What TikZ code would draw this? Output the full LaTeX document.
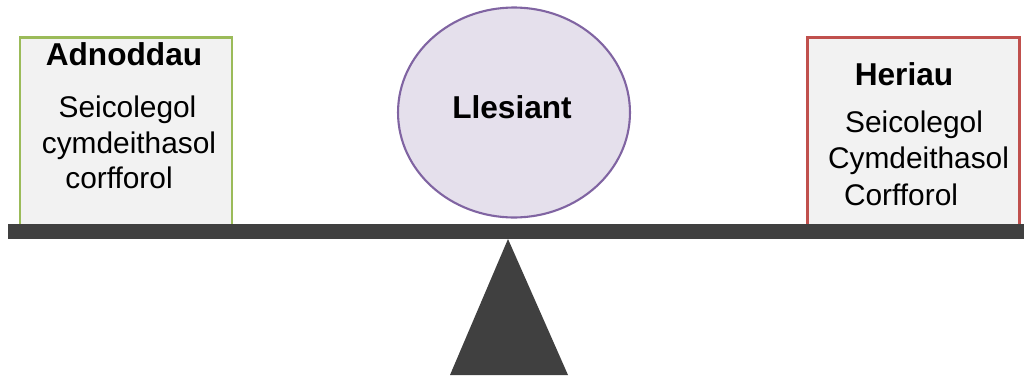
\documentclass[tikz,border=0pt]{standalone}
\usepackage{fontspec}
\setmainfont{Liberation Sans}
\usetikzlibrary{shapes.geometric}
\definecolor{resgreen}{HTML}{9BBB59}
\definecolor{chalred}{HTML}{C0504D}
\definecolor{wellpurple}{HTML}{8064A2}
\definecolor{welllilac}{HTML}{E5E0EC}
\definecolor{boxgray}{HTML}{F2F2F2}
\definecolor{beamgray}{HTML}{404040}
\begin{document}
\begin{tikzpicture}[x=0.02cm,y=-0.02cm,
 side box/.style={rectangle,draw,fill=boxgray,line width=1.4pt,minimum width=4.24cm,minimum height=3.8cm,inner sep=0pt},
 well node/.style={ellipse,draw=wellpurple,fill=welllilac,line width=1.2pt,minimum width=4.64cm,minimum height=4.2cm,inner sep=0pt},
 head text/.style={anchor=base,inner sep=0pt,font=\fontsize{18}{20}\selectfont\bfseries},
 item text/.style={anchor=base,inner sep=0pt,font=\fontsize{17}{20}\selectfont}]
\useasboundingbox (0,0) rectangle (1024,379);

% the two pans
\node[side box,draw=resgreen] (res) at (126,132.5) {};
\node[side box,draw=chalred] (chal) at (913.5,132.5) {};

% beam and pivot
\fill[beamgray] (8,224) rectangle (1024,239);
\coordinate (top) at (508,239);
\coordinate (bl) at (450,375);
\coordinate (br) at (568,375);
\fill[beamgray] (top) -- (bl) -- (br) -- cycle;

\node[well node] (well) at (514,112.5) {};
\node[head text] (wl) at (512,118) {Llesiant};

\node[head text] (r0) at (124,65) {Adnoddau};
\node[item text] (r1) at (127.5,117) {Seicolegol};
\node[item text] (r2) at (129,153) {cymdeithasol};
\node[item text] (r3) at (119,188) {corfforol};

\node[head text] (c0) at (904,85) {Heriau};
\node[item text] (c1) at (914,132) {Seicolegol};
\node[item text] (c2) at (918.5,168) {Cymdeithasol};
\node[item text] (c3) at (901,205) {Corfforol};

\end{tikzpicture}
\end{document}
